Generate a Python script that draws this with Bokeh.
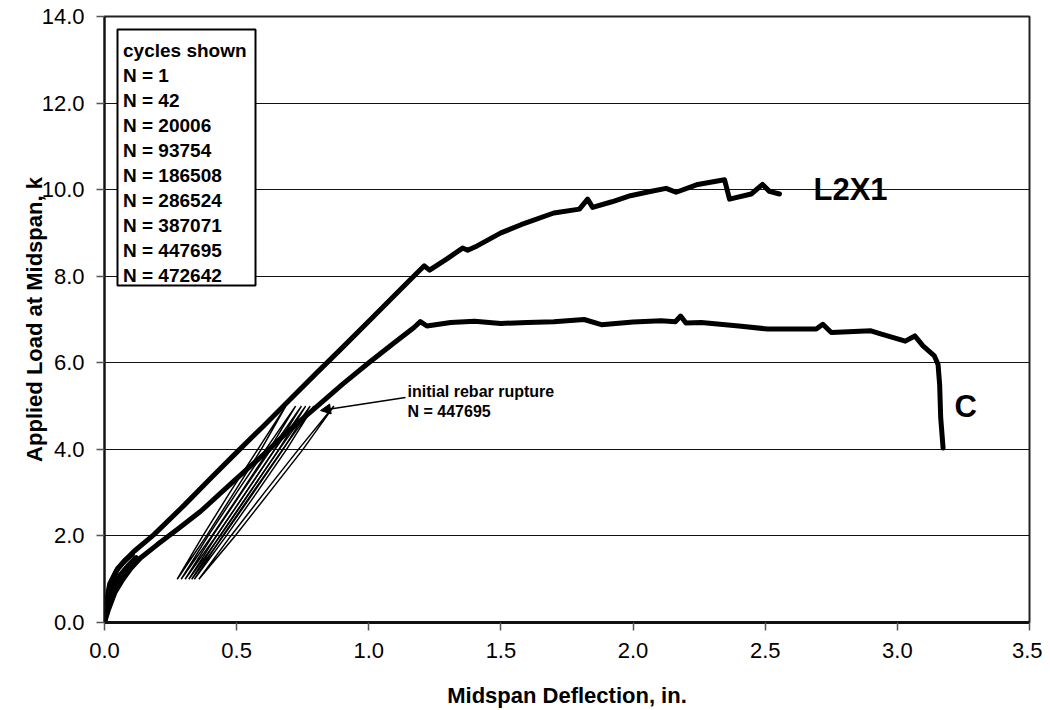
from bokeh.plotting import figure
from bokeh.models import (Range1d, FixedTicker, NumeralTickFormatter, Label,
                          BoxAnnotation, Arrow, NormalHead)
from bokeh.embed import file_html
from bokeh.resources import INLINE

# ---------------- data ----------------
l2x1_x = [0.0, 0.008, 0.025, 0.05, 0.08, 0.111, 0.187, 0.3, 0.4, 0.5, 0.6, 0.7,
          0.8, 0.9, 1.0, 1.1, 1.17, 1.21, 1.23, 1.3, 1.355, 1.374, 1.41, 1.5,
          1.576, 1.7, 1.797, 1.828, 1.847, 1.92, 1.99, 2.06, 2.125, 2.163,
          2.245, 2.346, 2.365, 2.447, 2.49, 2.516, 2.554]
l2x1_y = [0.0, 0.4, 0.9, 1.25, 1.45, 1.64, 2.03, 2.7, 3.32, 3.93, 4.53, 5.14,
          5.75, 6.35, 6.96, 7.57, 8.0, 8.24, 8.14, 8.42, 8.65, 8.60, 8.70, 9.0,
          9.19, 9.46, 9.55, 9.78, 9.59, 9.72, 9.86, 9.95, 10.03, 9.94,
          10.12, 10.23, 9.78, 9.90, 10.12, 9.96, 9.90]

c_x = [0.0, 0.015, 0.04, 0.07, 0.1, 0.136, 0.2, 0.28, 0.364, 0.49, 0.616, 0.7,
       0.79, 0.9, 1.0, 1.1, 1.17, 1.195, 1.22, 1.31, 1.4, 1.5, 1.6, 1.7, 1.815,
       1.88, 2.0, 2.106, 2.16, 2.18, 2.2, 2.258, 2.4, 2.51, 2.693, 2.718, 2.75,
       2.9, 2.94, 3.03, 3.066, 3.097, 3.14, 3.154, 3.16, 3.164, 3.173]
c_y = [0.0, 0.3, 0.7, 1.0, 1.25, 1.49, 1.8, 2.17, 2.57, 3.27, 3.96, 4.45,
       4.92, 5.5, 6.0, 6.48, 6.81, 6.95, 6.85, 6.93, 6.96, 6.91, 6.93, 6.95, 7.0,
       6.88, 6.94, 6.97, 6.95, 7.08, 6.92, 6.93, 6.85, 6.78, 6.78, 6.89, 6.70,
       6.74, 6.66, 6.50, 6.62, 6.39, 6.16, 5.96, 5.5, 4.73, 4.03]

# early cycles (N = 1, N = 42) near the origin
early1_x = [0.0, 0.012, 0.035, 0.06, 0.09, 0.12]
early1_y = [0.0, 0.45, 0.85, 1.1, 1.32, 1.5]
early2_x = [0.0, 0.006, 0.02, 0.045, 0.075, 0.105]
early2_y = [0.0, 0.45, 0.9, 1.2, 1.42, 1.57]

# later load cycles between ~1 k and ~5 k
loop_y = [1.0, 2.0, 3.0, 4.0, 5.0, 4.0, 3.0, 2.0, 1.0]
loop_x_20006 = [0.275, 0.386, 0.490, 0.593, 0.686, 0.580, 0.474, 0.372, 0.275]
loop_x_93754 = [0.290, 0.406, 0.516, 0.624, 0.723, 0.610, 0.500, 0.392, 0.290]
loop_x_186508 = [0.305, 0.423, 0.535, 0.644, 0.745, 0.630, 0.519, 0.409, 0.305]
loop_x_286524 = [0.319, 0.438, 0.550, 0.660, 0.761, 0.645, 0.534, 0.424, 0.319]
loop_x_387071 = [0.330, 0.450, 0.564, 0.676, 0.778, 0.661, 0.548, 0.436, 0.330]
loop_x_472642 = [0.340, 0.461, 0.576, 0.689, 0.792, 0.674, 0.560, 0.447, 0.340]
loop_x_447695 = [0.357, 0.494, 0.623, 0.751, 0.868, 0.734, 0.605, 0.478, 0.357]
loops = [loop_x_20006, loop_x_93754, loop_x_186508, loop_x_286524,
         loop_x_387071, loop_x_472642, loop_x_447695]

legend_lines = ["cycles shown", "N = 1", "N = 42", "N = 20006", "N = 93754",
                "N = 186508", "N = 286524", "N = 387071", "N = 447695",
                "N = 472642"]
annot_lines = ["initial rebar rupture", "N = 447695"]

x_ticks = [0.0, 0.5, 1.0, 1.5, 2.0, 2.5, 3.0, 3.5]
y_ticks = [0.0, 2.0, 4.0, 6.0, 8.0, 10.0, 12.0, 14.0]

# ---------------- figure ----------------
FONT = "Liberation Sans"
FL, FT, FW, FH = 104, 16, 925, 606


def dx(px):  # page pixel -> data x
    return (px - FL) / FW * 3.5


def dy(py):  # page pixel -> data y
    return (FT + FH - py) / FH * 14.0


p = figure(frame_width=FW, frame_height=FH, x_range=Range1d(0, 3.5),
           y_range=Range1d(0, 14), output_backend="svg", toolbar_location=None,
           min_border_left=FL, min_border_right=1042 - FL - FW, min_border_top=FT,
           min_border_bottom=702 - FT - FH)
p.background_fill_color = "white"
p.border_fill_color = "white"
p.outline_line_color = "#222222"
p.outline_line_width = 2

p.xgrid.visible = False
p.ygrid.ticker = FixedTicker(ticks=y_ticks)
p.ygrid.grid_line_color = "#111111"
p.ygrid.grid_line_width = 1

for ax, ticks in ((p.xaxis[0], x_ticks), (p.yaxis[0], y_ticks)):
    ax.ticker = FixedTicker(ticks=ticks)
    ax.formatter = NumeralTickFormatter(format="0.0")
    ax.major_label_text_font = FONT
    ax.major_label_text_font_size = "22px"
    ax.major_label_text_color = "black"
    ax.axis_label_text_font = FONT
    ax.axis_label_text_font_style = "bold"
    ax.axis_label_text_font_size = "22px"
    ax.axis_label_text_color = "black"
    ax.major_tick_in = 0
    ax.major_tick_out = 8
    ax.major_tick_line_color = "#555555"
    ax.major_tick_line_width = 1.5
    ax.minor_tick_line_color = None
    ax.axis_line_color = "#111111"
    ax.axis_line_width = 2

p.xaxis.axis_label = "Midspan Deflection, in."
p.yaxis.axis_label = "Applied Load at Midspan, k"
p.xaxis.major_label_standoff = 12
p.yaxis.major_label_standoff = 12
p.xaxis.axis_label_standoff = 22
p.yaxis.axis_label_standoff = -8
p.xaxis.axis_line_width = 3

# curves
for ex, ey in ((early1_x, early1_y), (early2_x, early2_y)):
    p.line(ex, ey, line_color="black", line_width=5, line_join="round", line_cap="round")
for lx in loops:
    p.line(lx, loop_y, line_color="black", line_width=1.5, line_join="miter")
p.line(c_x, c_y, line_color="black", line_width=5, line_join="round", line_cap="round")
p.line(l2x1_x, l2x1_y, line_color="black", line_width=5, line_join="round", line_cap="round")

# series labels
p.add_layout(Label(x=dx(813), y=dy(189), text="L2X1", text_font=FONT,
                   text_font_style="bold", text_font_size="31px",
                   text_baseline="alphabetic", text_color="black"))
p.add_layout(Label(x=dx(954), y=dy(406), text="C", text_font=FONT,
                   text_font_style="bold", text_font_size="31px",
                   text_baseline="alphabetic", text_color="black"))

# annotation with arrow
for i, t in enumerate(annot_lines):
    p.add_layout(Label(x=dx(407), y=dy(391 + 20 * i), text=t, text_font=FONT,
                       text_font_style="bold", text_font_size="16px",
                       text_baseline="alphabetic", text_color="black"))
p.add_layout(Arrow(x_start=dx(405), y_start=dy(397), x_end=dx(320), y_end=dy(410),
                   line_color="black", line_width=1.5,
                   end=NormalHead(size=10, fill_color="black", line_color="black")))

# legend-like box
p.add_layout(BoxAnnotation(left=dx(117), right=dx(255), top=dy(29), bottom=dy(285),
                           fill_color="white", fill_alpha=1.0,
                           line_color="black", line_width=2, line_alpha=1.0))
for i, t in enumerate(legend_lines):
    p.add_layout(Label(x=dx(122.5), y=dy(50 + 25 * i), text=t, text_font=FONT,
                       text_font_style="bold", text_font_size="19px",
                       text_baseline="alphabetic", text_color="black"))

open("out.html", "w").write(file_html(p, INLINE))
